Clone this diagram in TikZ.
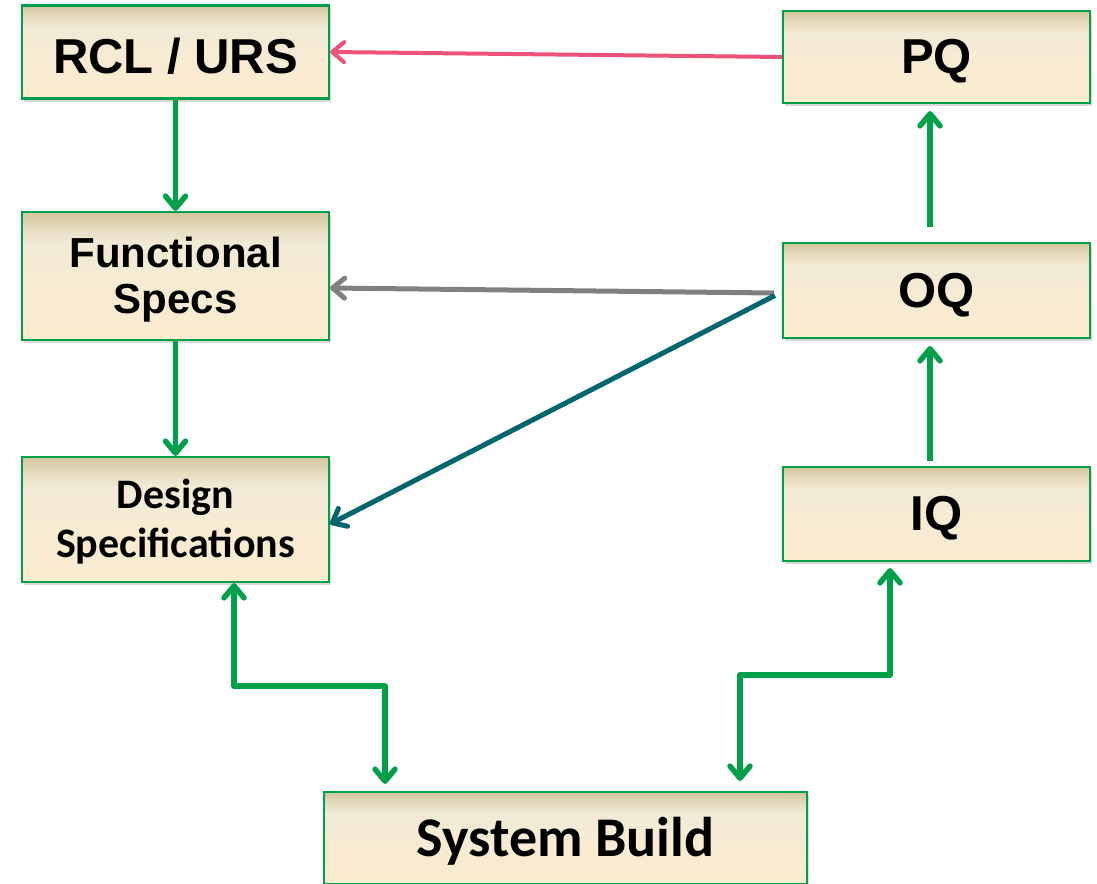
\documentclass[tikz,border=0pt]{standalone}
\usepackage{fontspec}
\setmainfont{Liberation Sans}
\newfontfamily\calibri{Carlito}
\usetikzlibrary{arrows.meta,shadows}
\definecolor{boxgreen}{RGB}{0,160,75}
\definecolor{boxtop}{RGB}{210,196,158}
\definecolor{boxtan}{RGB}{229,219,190}
\definecolor{boxmid}{RGB}{241,234,214}
\definecolor{boxbot}{RGB}{252,236,208}
\definecolor{pinkline}{RGB}{238,82,122}
\definecolor{grayline}{RGB}{128,128,128}
\definecolor{tealline}{RGB}{0,102,110}
\pgfdeclareverticalshading{stagefill}{100bp}{color(0bp)=(boxbot); color(25bp)=(boxbot); color(50bp)=(boxbot!50!boxmid); color(63bp)=(boxmid); color(69bp)=(boxtan); color(75bp)=(boxtop); color(100bp)=(boxtop)}
% pushes the first line a little below the middle
\newcommand{\dropline}[1]{\rule{0pt}{#1}}
\tikzset{
    stage_box/.style = {
        draw=boxgreen,
        line width=2.2pt,
        shading=stagefill,
        drop shadow={shadow xshift=2pt, shadow yshift=-3pt, opacity=0.3},
        minimum width=307pt,
        align=center,
        inner sep=0pt,
        font=\bfseries
    },
    big_text/.style = {font=\bfseries\fontsize{49}{54}\selectfont},
    barb/.tip = {Straight Barb[length=12pt, width=20pt, line cap=round, line join=round]},
    green_line/.style = {
        draw=boxgreen,
        line width=5.5pt,
        line join=round
    },
    pink_line/.style = {
        draw=pinkline,
        line width=4pt
    },
    gray_line/.style = {
        draw=grayline,
        line width=5pt
    },
    teal_line/.style = {
        draw=tealline,
        line width=5pt
    },
}
\begin{document}
\begin{tikzpicture}[x=1pt, y=-1pt]
    \useasboundingbox[fill=white] (0,0) rectangle (1097,883);

    % left column
    \node[stage_box, big_text, minimum height=93pt] (rcl) at (175.5, 52) {\dropline{0.88em}RCL / URS};
    \node[stage_box, minimum height=128pt, font=\bfseries\fontsize{42}{46}\selectfont] (fs) at (175.5, 276) {\dropline{0.92em}Functional\\Specs};
    \node[stage_box, minimum height=125pt, font=\calibri\bfseries\fontsize{42}{49}\selectfont] (ds) at (175.5, 519.5) {\dropline{0.78em}Design\\Specifications};

    % right column
    \node[stage_box, big_text, minimum height=92pt] (pq) at (936.5, 57) {\dropline{0.88em}PQ};
    \node[stage_box, big_text, minimum height=95pt] (oq) at (936.5, 290.5) {\dropline{0.88em}OQ};
    \node[stage_box, big_text, minimum height=94pt] (iq) at (936.5, 514) {\dropline{0.88em}IQ};

    % bottom
    \node[stage_box, minimum width=483pt, minimum height=92pt, font=\calibri\bfseries\fontsize{56}{60}\selectfont] (sb) at (565.5, 838) {\dropline{0.82em}System Build};

    \draw[green_line, -barb] (rcl.south) -- (fs.north);
    \draw[green_line, -barb] (fs.south) -- (ds.north);

    \draw[pink_line, -barb] (pq.west) -- (rcl.east);
    \draw[gray_line, -barb] ([xshift=-8pt, yshift=-2.5pt]oq.west) -- ([yshift=-12pt]fs.east);
    \draw[teal_line, -barb] ([xshift=-7pt, yshift=-5pt]oq.west) -- ([yshift=-4.5pt]ds.east);

    \draw[green_line, -barb] ([xshift=-6.5pt, yshift=5pt]iq.north) -- ([xshift=-6.5pt, yshift=-7pt]oq.south);
    \draw[green_line, -barb] ([xshift=-6.5pt, yshift=15pt]oq.north) -- ([xshift=-6.5pt, yshift=-7pt]pq.south);

    \draw[green_line, barb-barb] ([xshift=58.5pt]ds.south) -- ++(0,103) -| ([xshift=-180.5pt, yshift=7pt]sb.north);
    \draw[green_line, barb-barb] ([xshift=174.5pt, yshift=10pt]sb.north) -- ++(0,-106) -| ([xshift=-46.5pt, yshift=-6pt]iq.south);
\end{tikzpicture}
\end{document}
